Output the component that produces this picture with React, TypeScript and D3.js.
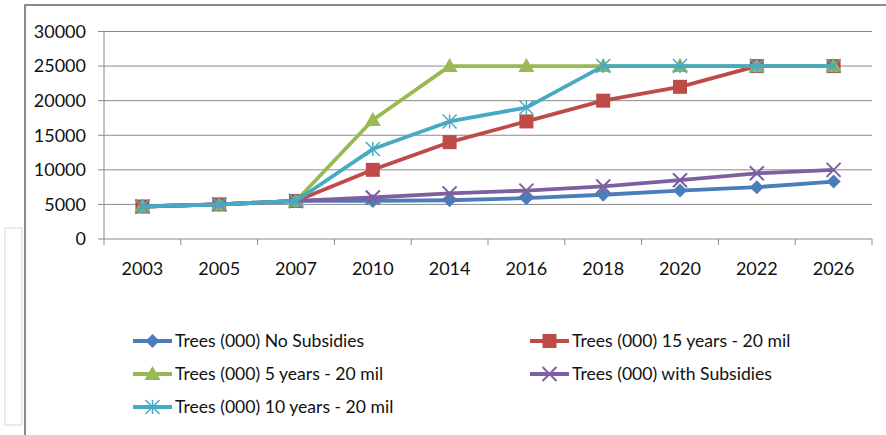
import React from "react";
import * as d3 from "d3";

const years = ["2003", "2005", "2007", "2010", "2014", "2016", "2018", "2020", "2022", "2026"];
const noSubsidies = [4700, 5000, 5500, 5500, 5600, 5900, 6400, 7000, 7500, 8300];
const fifteenYears = [4700, 5000, 5500, 10000, 14000, 17000, 20000, 22000, 25000, 25000];
const fiveYears = [4700, 5000, 5500, 17200, 25000, 25000, 25000, 25000, 25000, 25000];
const withSubsidies = [4700, 5000, 5500, 6000, 6600, 7000, 7600, 8500, 9500, 10000];
const tenYears = [4700, 5000, 5500, 13000, 17000, 19000, 25000, 25000, 25000, 25000];
const yTicks = [0, 5000, 10000, 15000, 20000, 25000, 30000];

const seriesNames = [
  "Trees (000) No Subsidies",
  "Trees (000) 15 years - 20 mil",
  "Trees (000) 5 years - 20 mil",
  "Trees (000) with Subsidies",
  "Trees (000) 10 years - 20 mil",
];
const seriesValues = [noSubsidies, fifteenYears, fiveYears, withSubsidies, tenYears];
const seriesColors = ["#4A7EBB", "#BE4B48", "#98B954", "#7D60A0", "#46AAC5"];
const seriesMarkers = ["diamond", "square", "triangle", "x", "star"];

const FONT = "Lato, sans-serif";

function Marker({ type, x, y, color }: { type: string; x: number; y: number; color: string }) {
  if (type === "diamond") {
    const s = 7;
    return <path d={`M${x},${y - s}L${x + s},${y}L${x},${y + s}L${x - s},${y}Z`} fill={color} />;
  }
  if (type === "square") {
    const s = 7;
    return <rect x={x - s} y={y - s} width={2 * s} height={2 * s} fill={color} />;
  }
  if (type === "triangle") {
    const s = 8;
    return <path d={`M${x},${y - s}L${x + s},${y + s * 0.75}L${x - s},${y + s * 0.75}Z`} fill={color} />;
  }
  if (type === "x") {
    const s = 7;
    return (
      <path d={`M${x - s},${y - s}L${x + s},${y + s}M${x + s},${y - s}L${x - s},${y + s}`} stroke={color} strokeWidth={2} />
    );
  }
  const s = 7;
  return (
    <path
      d={`M${x - s},${y - s}L${x + s},${y + s}M${x + s},${y - s}L${x - s},${y + s}M${x},${y - s}L${x},${y + s}`}
      stroke={color}
      strokeWidth={1.5}
    />
  );
}

export default function App() {
  const W = 886;
  const H = 435;
  const left = 104;
  const right = 872;
  const top = 31.5;
  const bottom = 239;

  const x = d3.scaleBand<string>().domain(years).range([left, right]).padding(0);
  const y = d3.scaleLinear().domain([0, 30000]).range([bottom, top]);
  const line = d3
    .line<number>()
    .x((_, i) => (x(years[i]) as number) + x.bandwidth() / 2)
    .y((d) => y(d));

  const legendItems = [
    { i: 0, lx: 133, ly: 341 },
    { i: 1, lx: 530, ly: 341 },
    { i: 2, lx: 133, ly: 374 },
    { i: 3, lx: 530, ly: 374 },
    { i: 4, lx: 133, ly: 407 },
  ];

  return (
    <svg width={W} height={H} style={{ position: "absolute", left: 0, top: 0, background: "#fff" }}>
      <rect x={0} y={0} width={W} height={H} fill="#fff" />
      <rect x={5} y={228} width={17} height={197} fill="none" stroke="#e4e4e4" strokeWidth={1.5} />
      <path d={`M25,${H}L25,5L${W},5`} fill="none" stroke="#8c8c8c" strokeWidth={2} />

      {yTicks.map((t) => (
        <g key={t}>
          {t > 0 && <line x1={left} x2={right} y1={y(t)} y2={y(t)} stroke="#8a8a8a" strokeWidth={1} />}
          <line x1={left - 6} x2={left} y1={y(t)} y2={y(t)} stroke="#8a8a8a" strokeWidth={1} />
          <text x={86} y={y(t)} dy="0.35em" textAnchor="end" fontFamily={FONT} fontSize={18} fill="#111">
            {t}
          </text>
        </g>
      ))}
      <line x1={left} x2={left} y1={top} y2={bottom} stroke="#8a8a8a" strokeWidth={1} />
      <line x1={left} x2={right} y1={bottom} y2={bottom} stroke="#8a8a8a" strokeWidth={1} />
      {years.map((yr) => (
        <g key={yr}>
          <line x1={x(yr) as number} x2={x(yr) as number} y1={bottom} y2={bottom + 6} stroke="#8a8a8a" />
          <text
            x={(x(yr) as number) + x.bandwidth() / 2}
            y={269}
            dy="0.35em"
            textAnchor="middle"
            fontFamily={FONT}
            fontSize={18}
            fill="#111"
          >
            {yr}
          </text>
        </g>
      ))}
      <line x1={right} x2={right} y1={bottom} y2={bottom + 6} stroke="#8a8a8a" />

      {seriesValues.map((vals, si) => (
        <g key={si}>
          <path d={line(vals) as string} fill="none" stroke={seriesColors[si]} strokeWidth={3.8} strokeLinejoin="round" />
          {vals.map((v, i) => (
            <Marker
              key={i}
              type={seriesMarkers[si]}
              x={(x(years[i]) as number) + x.bandwidth() / 2}
              y={y(v)}
              color={seriesColors[si]}
            />
          ))}
        </g>
      ))}

      {legendItems.map(({ i, lx, ly }) => (
        <g key={i}>
          <line x1={lx} x2={lx + 39} y1={ly} y2={ly} stroke={seriesColors[i]} strokeWidth={3.8} />
          <Marker type={seriesMarkers[i]} x={lx + 19.5} y={ly} color={seriesColors[i]} />
          <text x={lx + 42} y={ly} dy="0.35em" fontFamily={FONT} fontSize={17.6} fill="#111">
            {seriesNames[i]}
          </text>
        </g>
      ))}
    </svg>
  );
}
